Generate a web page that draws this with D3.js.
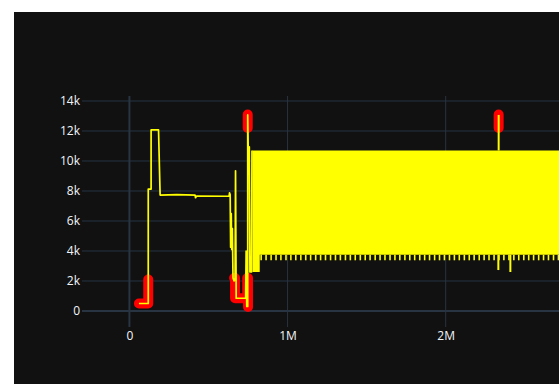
<!DOCTYPE html>
<html>
<head>
<meta charset="utf-8">
<script src="https://cdn.jsdelivr.net/npm/d3@7"></script>
<style>
  html, body { margin: 0; padding: 0; background: #ffffff; }
  svg { display: block; }
  text { font-family: "Open Sans", Verdana, Arial, sans-serif; font-size: 12px; fill: #f2f5fa; }
</style>
</head>
<body>
<svg id="chart" width="559" height="384"></svg>
<script>
// Tick values
const xTicks = [0, 1000000, 2000000];
const yTicks = [0, 2000, 4000, 6000, 8000, 10000, 12000, 14000];

// Signal trace up to the start of the dense oscillation
const signalX = [60000, 119000, 119000, 137000, 137000, 184000, 194000, 300000, 415000, 418000, 424000,
  630000, 633000, 637000, 640000, 644000, 647000, 651000, 655000, 662000, 668000, 671000, 675000,
  735000, 738000, 742000, 748000, 748000, 751000, 758000, 762000, 772000, 775000];
const signalY = [500, 500, 8130, 8130, 12070, 12070, 7730, 7760, 7720, 7550, 7660,
  7650, 7880, 7750, 4250, 6500, 4100, 5500, 2200, 2000, 2200, 9350, 850,
  850, 4000, 300, 300, 13070, 10950, 10950, 2600, 2600, 10700];

// Dense oscillation envelope (step edges)
const bandX = [778000, 824000, 2900000];
const bandLo = [2600, 3750, 3750];
const bandHi = [10700, 10700, 10700];

// Periodic low dips along the lower edge of the oscillation
const teethX = [833000, 864000, 896000, 927000, 958000, 990000, 1021000, 1052000, 1084000, 1115000,
  1146000, 1178000, 1209000, 1240000, 1272000, 1303000, 1334000, 1366000, 1397000, 1428000,
  1460000, 1491000, 1522000, 1554000, 1585000, 1616000, 1648000, 1679000, 1710000, 1742000,
  1773000, 1804000, 1836000, 1867000, 1898000, 1930000, 1961000, 1992000, 2024000, 2055000,
  2086000, 2118000, 2149000, 2180000, 2212000, 2243000, 2274000, 2306000, 2337000, 2368000,
  2400000, 2431000, 2462000, 2494000, 2525000, 2556000, 2588000, 2619000, 2650000, 2682000, 2713000];
const teethTop = 3750;
const teethLow = 3380;

// Deeper isolated dips and the late spike
const dipX = [2333000, 2409000];
const dipY = [2730, 2600];
const spikeX = [2335000];
const spikeY = [13070];

// Flagged anomaly segments (null separates groups)
const anomalyX = [60000, 119000, 119000, null,
  662000, 668000, 668000, 745000, 745000, 750000, 750000, null,
  748000, 748000, null,
  2335000, 2335000];
const anomalyY = [500, 500, 2100, null,
  2200, 2200, 850, 850, 2200, 2200, 270, null,
  12200, 13100, null,
  12200, 13100];

const svg = d3.select("#chart");
const W = 559, H = 384;

// Paper
svg.append("rect").attr("x", 14).attr("y", 12).attr("width", W - 14).attr("height", H - 12).attr("fill", "#111111");

const plot = { left: 82, top: 96, right: 588, bottom: 327 };
const x = d3.scaleLinear().domain([-300000, 2900000]).range([plot.left, plot.right]);
const y = d3.scaleLinear().domain([-1067, 14333]).range([plot.bottom, plot.top]);

svg.append("clipPath").attr("id", "clip").append("rect")
  .attr("x", plot.left).attr("y", plot.top)
  .attr("width", plot.right - plot.left).attr("height", plot.bottom - plot.top);

const fmt = d3.format("~s");
const gridColor = "#283442";

// Grid
const grid = svg.append("g");
grid.selectAll("line.h").data(yTicks).join("line")
  .attr("x1", plot.left).attr("x2", W)
  .attr("y1", d => y(d)).attr("y2", d => y(d))
  .attr("stroke", gridColor).attr("stroke-width", d => d === 0 ? 2 : 1);
grid.selectAll("line.v").data(xTicks).join("line")
  .attr("x1", d => x(d)).attr("x2", d => x(d))
  .attr("y1", plot.top).attr("y2", plot.bottom)
  .attr("stroke", gridColor).attr("stroke-width", d => d === 0 ? 2 : 1);

// Axes (labels only)
const yAxis = svg.append("g").attr("transform", `translate(${plot.left},0)`)
  .call(d3.axisLeft(y).tickValues(yTicks).tickSize(0).tickPadding(2).tickFormat(fmt));
const xAxis = svg.append("g").attr("transform", `translate(0,${plot.bottom})`)
  .call(d3.axisBottom(x).tickValues(xTicks).tickSize(0).tickPadding(4).tickFormat(fmt));
[yAxis, xAxis].forEach(a => {
  a.select(".domain").remove();
  a.selectAll("text").attr("fill", "#f2f5fa").style("font-size", "12px")
    .style("font-family", '"Open Sans", Verdana, Arial, sans-serif');
});

const layer = svg.append("g").attr("clip-path", "url(#clip)");

// Anomalies (thick red, under the signal)
const anomalies = anomalyX.map((v, i) => ({ x: v, y: anomalyY[i] }));
layer.append("path")
  .datum(anomalies)
  .attr("d", d3.line().defined(d => d.x !== null).x(d => x(d.x)).y(d => y(d.y)))
  .attr("fill", "none").attr("stroke", "#ff0000").attr("stroke-width", 10)
  .attr("stroke-linejoin", "round").attr("stroke-linecap", "round");

// Dense oscillation band
const band = bandX.map((v, i) => ({ x: v, lo: bandLo[i], hi: bandHi[i] }));
layer.append("path")
  .datum(band)
  .attr("d", d3.area().curve(d3.curveStepAfter).x(d => x(d.x)).y0(d => y(d.lo)).y1(d => y(d.hi)))
  .attr("fill", "#ffff00");

// Dips along the lower edge
layer.selectAll("line.tooth").data(teethX).join("line")
  .attr("x1", d => x(d)).attr("x2", d => x(d))
  .attr("y1", y(teethTop)).attr("y2", y(teethLow))
  .attr("stroke", "#ffff00").attr("stroke-width", 1.6);
layer.selectAll("line.dip").data(dipX.map((v, i) => ({ x: v, y: dipY[i] }))).join("line")
  .attr("x1", d => x(d.x)).attr("x2", d => x(d.x))
  .attr("y1", y(teethTop)).attr("y2", d => y(d.y))
  .attr("stroke", "#ffff00").attr("stroke-width", 2);
layer.selectAll("line.spike").data(spikeX.map((v, i) => ({ x: v, y: spikeY[i] }))).join("line")
  .attr("x1", d => x(d.x)).attr("x2", d => x(d.x))
  .attr("y1", y(bandHi[0])).attr("y2", d => y(d.y))
  .attr("stroke", "#ffff00").attr("stroke-width", 2);

// Signal line
const signal = signalX.map((v, i) => ({ x: v, y: signalY[i] }));
layer.append("path")
  .datum(signal)
  .attr("d", d3.line().x(d => x(d.x)).y(d => y(d.y)))
  .attr("fill", "none").attr("stroke", "#ffff00").attr("stroke-width", 1.7)
  .attr("stroke-linejoin", "round");
</script>
</body>
</html>
